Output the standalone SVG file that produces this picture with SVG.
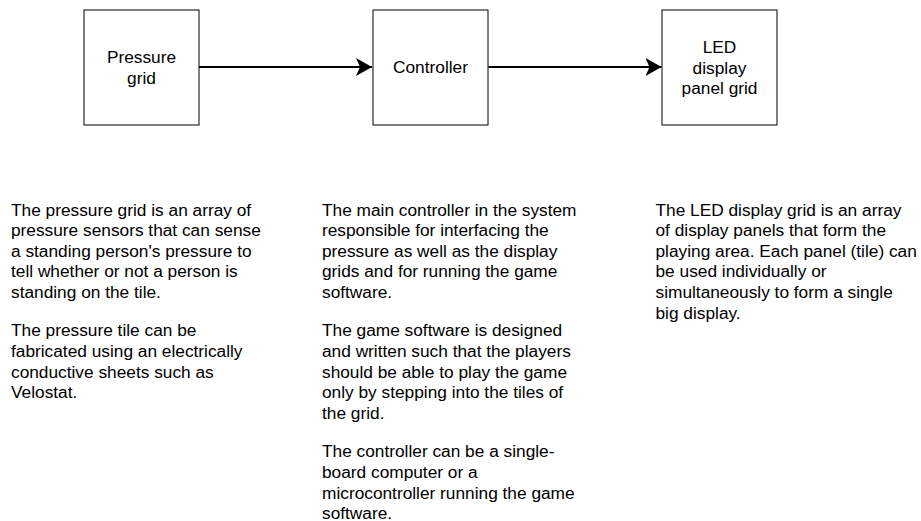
<svg xmlns="http://www.w3.org/2000/svg" width="921" height="521" viewBox="0 0 921 521">
  <style>
    .box { fill: #ffffff; stroke: #000000; stroke-width: 1; }
    .label { font-family: "Liberation Sans", Arial, sans-serif; font-size: 17.3px; fill: #000000; text-anchor: middle; }
    .desc { font-family: "Liberation Sans", Arial, sans-serif; font-size: 17.3px; fill: #000000; }
    .edge { fill: none; stroke: #000000; stroke-width: 2; }
  </style>
  <defs>
    <marker id="arrow" markerUnits="userSpaceOnUse" markerWidth="18" markerHeight="20" refX="16" refY="10" orient="auto">
      <path d="M0,1 L16,10 L0,19 L4,10 Z" fill="#000000"/>
    </marker>
  </defs>
  <rect width="921" height="521" fill="#ffffff"/>

  <g id="connectors">
    <line class="edge" x1="199" y1="67" x2="372" y2="67" marker-end="url(#arrow)"/>
    <line class="edge" x1="488.5" y1="67" x2="661.5" y2="67" marker-end="url(#arrow)"/>
  </g>

  <g id="pressure-grid">
    <rect class="box" x="84" y="10" width="115" height="115"/>
    <text class="label" x="141.5" y="63">Pressure</text>
    <text class="label" x="141.5" y="83.7">grid</text>
  </g>

  <g id="controller">
    <rect class="box" x="373" y="10" width="115" height="115"/>
    <text class="label" x="430.5" y="73">Controller</text>
  </g>

  <g id="led-display">
    <rect class="box" x="662" y="10" width="115" height="115"/>
    <text class="label" x="719.5" y="53">LED</text>
    <text class="label" x="719.5" y="73.7">display</text>
    <text class="label" x="719.5" y="94.4">panel grid</text>
  </g>

  <g id="pressure-grid-notes" class="desc">
    <text x="11" y="215.5">The pressure grid is an array of</text>
    <text x="11" y="236.1">pressure sensors that can sense</text>
    <text x="11" y="256.7">a standing person's pressure to</text>
    <text x="11" y="277.3">tell whether or not a person is</text>
    <text x="11" y="297.9">standing on the tile.</text>
    <text x="11" y="336.4">The pressure tile can be</text>
    <text x="11" y="357">fabricated using an electrically</text>
    <text x="11" y="377.6">conductive sheets such as</text>
    <text x="11" y="398.2">Velostat.</text>
  </g>

  <g id="controller-notes" class="desc">
    <text x="322" y="215.5">The main controller in the system</text>
    <text x="322" y="236.1">responsible for interfacing the</text>
    <text x="322" y="256.7">pressure as well as the display</text>
    <text x="322" y="277.3">grids and for running the game</text>
    <text x="322" y="297.9">software.</text>
    <text x="322" y="336.4">The game software is designed</text>
    <text x="322" y="357">and written such that the players</text>
    <text x="322" y="377.6">should be able to play the game</text>
    <text x="322" y="398.2">only by stepping into the tiles of</text>
    <text x="322" y="418.8">the grid.</text>
    <text x="322" y="457.3">The controller can be a single-</text>
    <text x="322" y="477.9">board computer or a</text>
    <text x="322" y="498.5">microcontroller running the game</text>
    <text x="322" y="519">software.</text>
  </g>

  <g id="led-display-notes" class="desc">
    <text x="655.5" y="215.5">The LED display grid is an array</text>
    <text x="655.5" y="236.1">of display panels that form the</text>
    <text x="655.5" y="256.7">playing area. Each panel (tile) can</text>
    <text x="655.5" y="277.3">be used individually or</text>
    <text x="655.5" y="297.9">simultaneously to form a single</text>
    <text x="655.5" y="318.5">big display.</text>
  </g>
</svg>
